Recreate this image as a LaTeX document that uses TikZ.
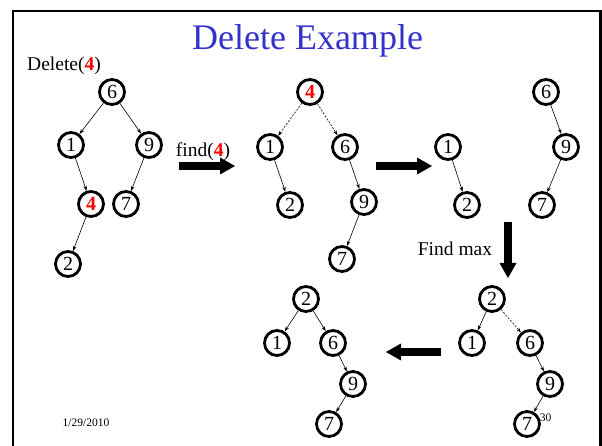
\documentclass[tikz,border=0pt]{standalone}
\usepackage{fontspec}
\setmainfont{Liberation Serif}
\usetikzlibrary{arrows.meta}
\definecolor{titleblue}{RGB}{51,51,204}
\begin{document}
\begin{tikzpicture}[x=1pt,y=-1pt,
  nd/.style={circle,draw,line width=2.8pt,minimum size=25pt,inner sep=0pt,font=\fontsize{20}{22}\selectfont},
  ed/.style={line width=0.6pt,-{Stealth[length=5pt,width=3.5pt]}},
  dt/.style={ed,dash pattern=on 2pt off 1.5pt},
  big/.style={line width=8pt,-{Triangle[length=15pt,width=17pt,line width=0pt]}},
  lbl/.style={font=\fontsize{19.5}{22}\selectfont,inner sep=0pt},
  rd/.style={text=red,font=\fontsize{20}{22}\selectfont\bfseries}]
\useasboundingbox (0,0) rectangle (602,446);
\clip (0,0) rectangle (602,446);
\draw[line width=2.5pt] (13,450) -- (13,11) -- (600.5,11) -- (600.5,450);
\node[text=titleblue,font=\fontsize{36}{40}\selectfont,anchor=base] (title) at (307.5,50) {Delete Example};
\node[lbl,anchor=base] (del) at (64,71) {Delete(\textcolor{red}{\textbf{4}})};
\node[lbl,anchor=base] (find) at (203,157) {find(\textcolor{red}{\textbf{4}})};
\node[lbl,anchor=base] (fmax) at (455,255) {Find max};
\node[font=\fontsize{11.5}{13}\selectfont,inner sep=0pt] (date) at (86,423) {1/29/2010};
\node[font=\fontsize{11.5}{13}\selectfont,inner sep=0pt] (pg) at (545.5,418) {30};
% tree 1
\node[nd] (a6) at (112,92) {6};
\node[nd] (a1) at (71,145) {1};
\node[nd] (a9) at (149,145) {9};
\node[nd,rd] (a4) at (91,204) {4};
\node[nd] (a7) at (126,204) {7};
\node[nd] (a2) at (68,264) {2};
\draw[ed] (a6) -- (a1); \draw[ed] (a6) -- (a9);
\draw[ed] (a1) -- (a4); \draw[ed] (a9) -- (a7);
\draw[ed] (a4) -- (a2);
% tree 2
\node[nd,rd] (b4) at (310,92) {4};
\node[nd] (b1) at (270,147) {1};
\node[nd] (b6) at (345,147) {6};
\node[nd] (b2) at (290,205) {2};
\node[nd] (b9) at (364,202) {9};
\node[nd] (b7) at (342,259) {7};
\draw[dt] (b4) -- (b1); \draw[dt] (b4) -- (b6);
\draw[ed] (b1) -- (b2); \draw[ed] (b6) -- (b9); \draw[ed] (b9) -- (b7);
% tree 3
\node[nd] (c1) at (448,147) {1};
\node[nd] (c2) at (467,205) {2};
\node[nd] (c6) at (546,92) {6};
\node[nd] (c9) at (566,147) {9};
\node[nd] (c7) at (542,205) {7};
\draw[ed] (c1) -- (c2); \draw[ed] (c6) -- (c9); \draw[ed] (c9) -- (c7);
% bottom right tree
\node[nd] (d2) at (492,299) {2};
\node[nd] (d1) at (472,343) {1};
\node[nd] (d6) at (530,343) {6};
\node[nd] (d9) at (550,384) {9};
\node[nd] (d7) at (527,424) {7};
\draw[ed] (d2) -- (d1); \draw[dt] (d2) -- (d6);
\draw[ed] (d6) -- (d9); \draw[ed] (d9) -- (d7);
% bottom left tree
\node[nd] (e2) at (306,299) {2};
\node[nd] (e1) at (277,343) {1};
\node[nd] (e6) at (333,343) {6};
\node[nd] (e9) at (353,384) {9};
\node[nd] (e7) at (329,424) {7};
\draw[ed] (e2) -- (e1); \draw[ed] (e2) -- (e6);
\draw[ed] (e6) -- (e9); \draw[ed] (e9) -- (e7);
% big arrows
\coordinate (p1s) at (179,166); \coordinate (p1e) at (235,166);
\coordinate (p2s) at (376,166); \coordinate (p2e) at (432,166);
\coordinate (p3s) at (508,222); \coordinate (p3e) at (508,278);
\coordinate (p4s) at (441,352); \coordinate (p4e) at (386,352);
\draw[big] (p1s) -- (p1e);
\draw[big] (p2s) -- (p2e);
\draw[big] (p3s) -- (p3e);
\draw[big] (p4s) -- (p4e);
\end{tikzpicture}
\end{document}
